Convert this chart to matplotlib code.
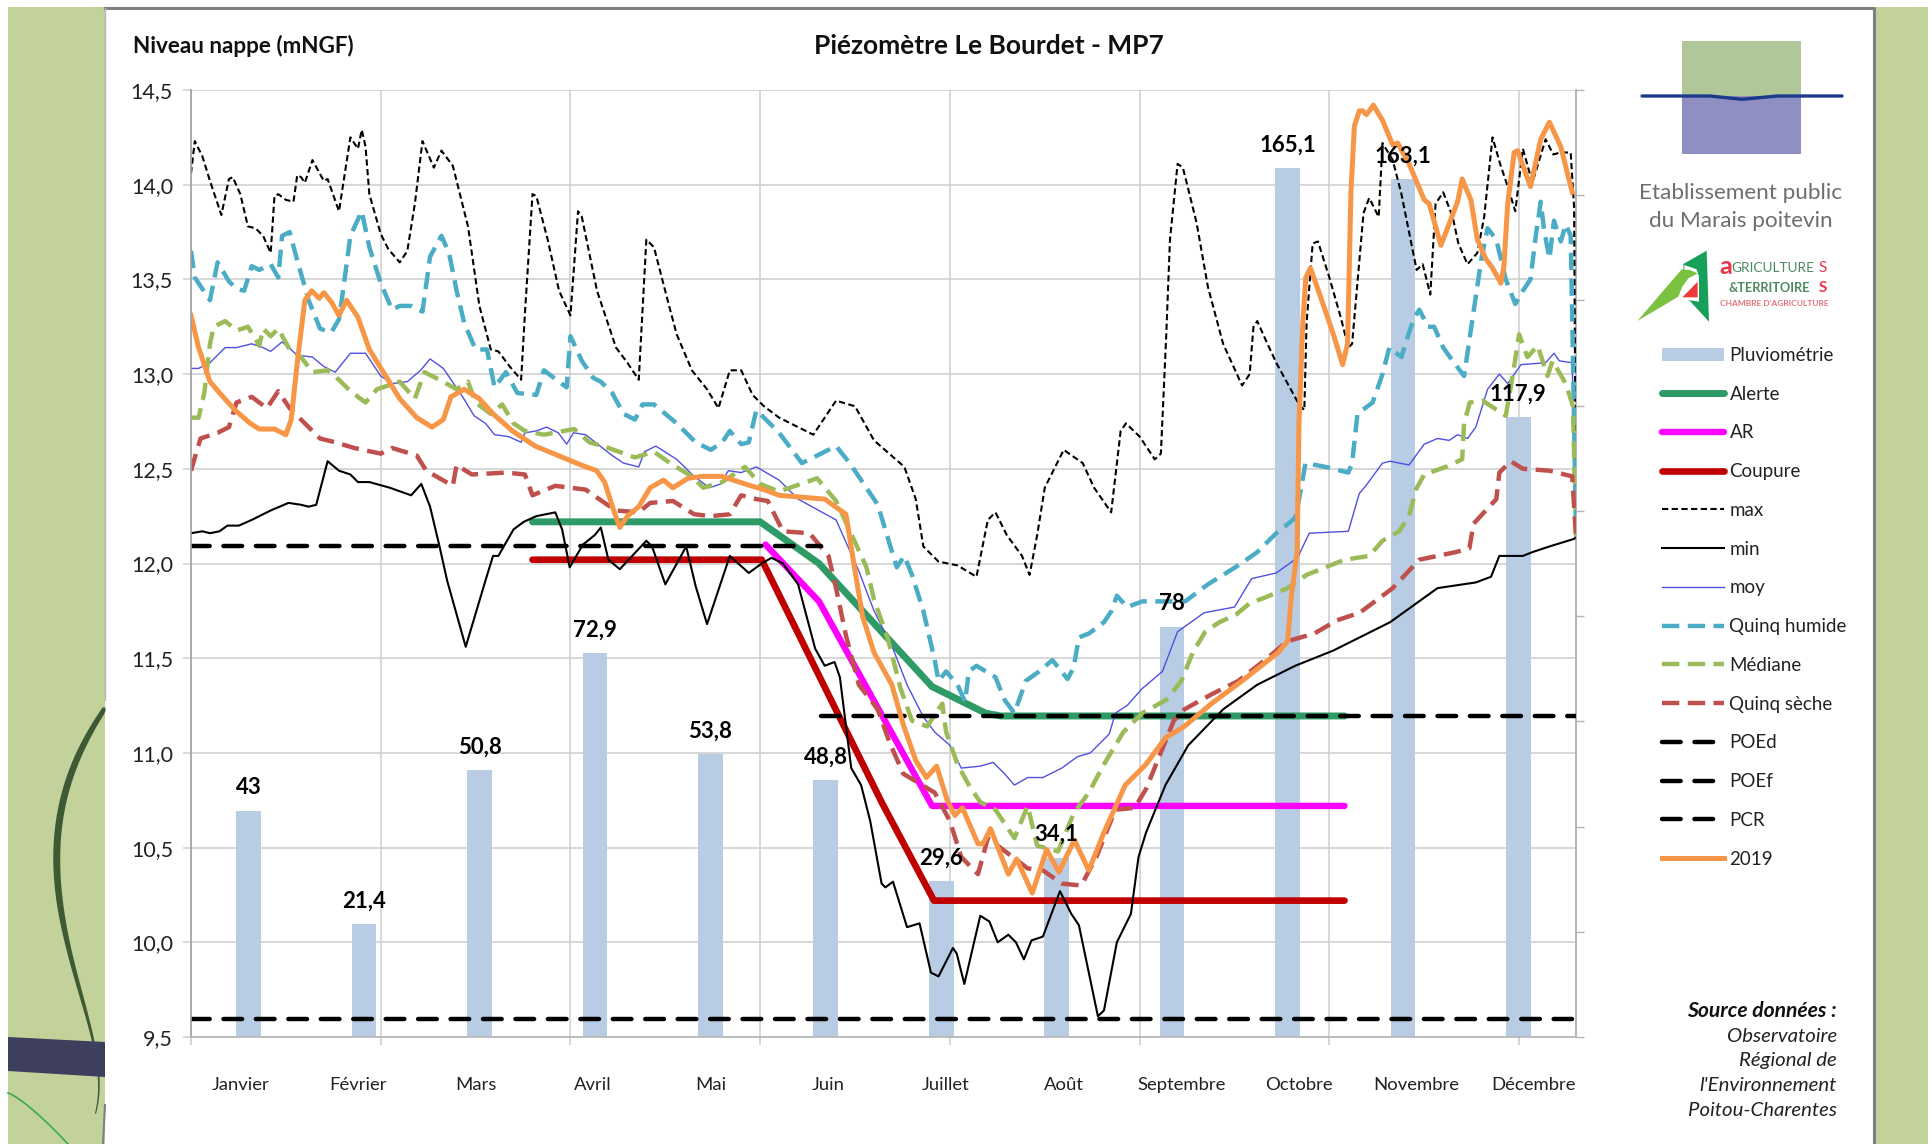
import numpy as np
import matplotlib
matplotlib.use('Agg')
import matplotlib.pyplot as plt
from matplotlib.patches import Patch, Polygon, Rectangle

plt.rcParams['font.family'] = ['Lato', 'DejaVu Sans']

W, H = 1933, 1144

# Monthly rain
months = ['Janvier', 'Février', 'Mars', 'Avril', 'Mai', 'Juin', 'Juillet', 'Août',
          'Septembre', 'Octobre', 'Novembre', 'Décembre']
rain = [43, 21.4, 50.8, 72.9, 53.8, 48.8, 29.6, 34.1, 78, 165.1, 163.1, 117.9]
rain_labels = ['43', '21,4', '50,8', '72,9', '53,8', '48,8', '29,6', '34,1', '78', '165,1', '163,1', '117,9']

y_ticks = [9.5, 10, 10.5, 11, 11.5, 12, 12.5, 13, 13.5, 14, 14.5]
y_labels = ['9,5', '10,0', '10,5', '11,0', '11,5', '12,0', '12,5', '13,0', '13,5', '14,0', '14,5']

# Thresholds (day of year, level)
alerte_d = [90, 150, 165.5, 195.3, 209.4, 213.4, 304]
alerte_v = [12.22, 12.22, 12.0, 11.35, 11.21, 11.195, 11.195]
ar_d = [151.4, 165.5, 195.3, 304]
ar_v = [12.10, 11.80, 10.72, 10.72]
coupure_d = [90, 150.4, 182, 195.8, 304]
coupure_v = [12.02, 12.02, 10.74, 10.22, 10.22]
poed_d = [0, 166]
poed_v = [12.095, 12.095]
poef_d = [166, 365]
poef_v = [11.195, 11.195]
pcr_d = [0, 364]
pcr_v = [9.595, 9.595]

# Yearly statistics
max_d = [0, 1, 3, 5, 8, 10, 11, 13, 15, 17, 19, 21, 22, 23, 25, 27, 28, 29, 30, 32, 35, 36, 39, 42, 44, 45, 46, 47,
         50, 52, 55, 57, 59, 61, 64, 66, 69, 73, 76, 79, 81, 84, 87, 88, 90, 91, 94, 97, 100, 102, 103, 107, 112,
         115, 118, 120, 122, 126, 128, 132, 136, 139, 142, 145, 148, 151, 155, 164, 170, 175, 180, 188, 191, 193,
         197, 202, 207, 210, 212, 215, 219, 221, 223, 225, 230, 235, 238, 242.5, 245, 246.4, 250, 254, 255.6, 257,
         258, 260, 261.4, 265, 268, 272, 277, 279, 280, 281, 283, 286, 292, 293.4, 294, 295.6, 297, 300, 303, 305,
         306, 309, 310.5, 313, 314, 316.7, 319, 323, 324.6, 326.6, 328, 330, 332.5, 334, 336.4, 339, 340.8, 343,
         345, 347, 349, 351, 353.5, 357, 359, 361, 363.6, 364.5, 365]
max_v = [14.06, 14.23, 14.15, 14.02, 13.84, 14.03, 14.04, 13.95, 13.78, 13.77, 13.73, 13.64, 13.94, 13.95, 13.92,
         13.91, 14.05, 14.04, 14.01, 14.13, 14.02, 14.03, 13.86, 14.25, 14.19, 14.29, 14.20, 13.95, 13.74, 13.66,
         13.59, 13.65, 13.90, 14.23, 14.09, 14.18, 14.10, 13.78, 13.36, 13.13, 13.12, 13.04, 12.97, 13.32, 13.95,
         13.94, 13.71, 13.44, 13.31, 13.86, 13.83, 13.44, 13.14, 13.06, 12.97, 13.71, 13.67, 13.36, 13.21, 13.02,
         12.92, 12.82, 13.02, 13.02, 12.89, 12.83, 12.77, 12.68, 12.86, 12.83, 12.65, 12.51, 12.34, 12.09, 12.01,
         11.99, 11.93, 12.23, 12.27, 12.15, 12.04, 11.94, 12.15, 12.40, 12.60, 12.53, 12.40, 12.27, 12.70, 12.74,
         12.67, 12.55, 12.58, 13.20, 13.71, 14.11, 14.09, 13.80, 13.46, 13.16, 12.94, 13.0, 13.25, 13.28, 13.19,
         13.06, 12.84, 12.81, 13.27, 13.69, 13.70, 13.51, 13.30, 13.14, 13.16, 13.85, 13.93, 13.83, 14.22, 14.13,
         13.95, 13.55, 13.58, 13.42, 13.90, 13.96, 13.83, 13.69, 13.58, 13.64, 13.83, 14.25, 14.11, 13.99, 13.86,
         14.19, 14.01, 14.24, 14.16, 14.17, 14.17, 13.88, 12.14]

min_d = [0, 3, 5, 7.5, 9.6, 12.6, 16, 21, 25.7, 29, 31, 33, 36, 39, 42, 44, 47, 52.4, 58, 60.7, 63, 65.5, 67.5, 72.4,
         77.6, 79.6, 81, 85, 87.7, 91, 96, 97.8, 99.8, 103.3, 106.4, 108, 110, 113, 120, 121.5, 125, 130.5, 133, 136,
         142, 147, 150.4, 153, 156, 160, 164.5, 167, 169.6, 171, 174, 176.6, 179, 182, 183, 185, 188.7, 192, 195, 197,
         200.8, 201.8, 203.8, 208, 210.4, 212.6, 215.4, 217.4, 219.5, 221.5, 224.5, 229, 232, 234, 239, 240.6, 244,
         247.7, 249.7, 251.7, 256.8, 262.8, 272, 281, 291, 301, 308, 316, 328.5, 338.6, 342.6, 344.8, 351, 353.5, 358,
         364.5, 365]
min_v = [12.16, 12.17, 12.16, 12.17, 12.20, 12.20, 12.23, 12.28, 12.32, 12.31, 12.30, 12.31, 12.54, 12.49, 12.47,
         12.43, 12.43, 12.40, 12.36, 12.42, 12.30, 12.09, 11.91, 11.56, 11.91, 12.04, 12.04, 12.18, 12.22, 12.25,
         12.27, 12.18, 11.98, 12.10, 12.15, 12.19, 12.02, 11.97, 12.12, 12.09, 11.89, 12.09, 11.88, 11.68, 12.04,
         11.95, 12.0, 12.03, 12.0, 11.89, 11.55, 11.46, 11.48, 11.40, 10.92, 10.83, 10.64, 10.31, 10.29, 10.32,
         10.08, 10.10, 9.84, 9.82, 9.97, 9.94, 9.78, 10.14, 10.11, 10.0, 10.04, 10.0, 9.91, 10.01, 10.03, 10.27,
         10.15, 10.09, 9.61, 9.64, 10.0, 10.15, 10.45, 10.58, 10.83, 11.04, 11.23, 11.36, 11.46, 11.54, 11.61, 11.69,
         11.87, 11.90, 11.93, 12.04, 12.04, 12.06, 12.09, 12.13, 12.14]

moy_d = [0, 2, 5, 9, 12, 16, 19, 21, 24, 28, 32, 35, 38, 42, 46, 50, 53, 57, 60.5, 63, 66.5, 71.6, 74.6, 77.6, 80,
         83.7, 87, 88, 91, 93.7, 96.8, 99, 100.8, 104, 111, 114, 118, 119.5, 122.5, 128, 132.6, 136.6, 139.6, 141.6,
         145, 149, 155, 160, 170, 176, 180, 185, 188.7, 193, 196, 200, 203, 208, 211.4, 214.4, 217, 220.5, 224.5,
         229.5, 233.6, 237, 242, 243.6, 246.7, 250.7, 256, 260, 267, 275, 279.5, 286, 291.6, 294.7, 305, 307.9,
         309.6, 314, 316, 321, 325, 328.5, 331.6, 333.8, 336.4, 338.6, 341.7, 344.8, 347, 350.5, 357, 359.2, 360.6,
         364, 365]
moy_v = [13.03, 13.03, 13.06, 13.14, 13.14, 13.16, 13.14, 13.12, 13.17, 13.10, 13.09, 13.04, 13.01, 13.11, 13.11,
         12.99, 12.95, 12.96, 13.02, 13.08, 13.03, 12.88, 12.78, 12.74, 12.68, 12.67, 12.64, 12.69, 12.70, 12.72,
         12.69, 12.63, 12.69, 12.68, 12.57, 12.53, 12.51, 12.59, 12.62, 12.55, 12.46, 12.40, 12.42, 12.49, 12.48,
         12.51, 12.44, 12.34, 12.23, 11.96, 11.75, 11.55, 11.36, 11.19, 11.11, 11.04, 10.92, 10.93, 10.95, 10.89,
         10.83, 10.87, 10.87, 10.92, 10.98, 11.0, 11.10, 11.21, 11.25, 11.34, 11.43, 11.64, 11.74, 11.77, 11.92,
         11.95, 12.03, 12.16, 12.17, 12.37, 12.41, 12.53, 12.54, 12.52, 12.63, 12.66, 12.65, 12.68, 12.66, 12.72,
         12.92, 13.0, 12.95, 13.05, 13.06, 13.11, 13.07, 13.06, 12.14]

humide_d = [0, 1, 3, 5, 7, 10, 12, 14, 16, 18, 21, 23, 24, 26, 28, 31, 34, 37, 39, 40, 42, 45, 47, 50, 53, 55, 58, 61,
            63, 66, 68, 70, 72, 75, 78, 80, 83, 86, 91, 93, 95, 99, 100, 103, 106, 108, 111, 114, 117, 119, 122, 128,
            133, 137, 140, 142, 145, 147, 149, 151, 155, 161, 170, 173.6, 181, 184, 186, 188, 190, 193, 196, 197, 199,
            202, 204, 205, 207, 212, 214.4, 217, 220, 223.5, 227, 231, 232.6, 234, 236.6, 240.6, 242.6, 244, 246.7,
            250.7, 256.8, 262, 268, 276, 281, 286, 291, 292.5, 293.7, 299, 305, 306, 307.4, 311.4, 314, 315.8, 319,
            321, 322.4, 323.7, 326, 327.6, 330, 332.5, 335.5, 337.7, 340, 341.7, 344, 346.5, 349, 351, 353, 354.4,
            355.7, 356.6, 358, 359.2, 361, 362.3, 363.6, 364.2, 365]
humide_v = [13.65, 13.51, 13.45, 13.39, 13.59, 13.49, 13.45, 13.44, 13.57, 13.55, 13.58, 13.51, 13.73, 13.75, 13.60,
            13.39, 13.24, 13.22, 13.29, 13.43, 13.73, 13.86, 13.67, 13.48, 13.34, 13.36, 13.36, 13.33, 13.62, 13.73,
            13.64, 13.44, 13.27, 13.13, 13.13, 12.93, 13.01, 12.90, 12.89, 13.02, 12.99, 12.93, 13.20, 13.07, 12.98,
            12.96, 12.90, 12.79, 12.76, 12.84, 12.84, 12.74, 12.64, 12.60, 12.64, 12.70, 12.63, 12.64, 12.81, 12.77,
            12.69, 12.53, 12.62, 12.53, 12.31, 12.11, 11.98, 12.04, 11.94, 11.75, 11.49, 11.38, 11.43, 11.36, 11.27,
            11.43, 11.46, 11.40, 11.28, 11.21, 11.38, 11.43, 11.49, 11.39, 11.45, 11.61, 11.63, 11.69, 11.75, 11.83,
            11.77, 11.80, 11.80, 11.80, 11.89, 11.99, 12.06, 12.16, 12.24, 12.39, 12.53, 12.51, 12.48, 12.53, 12.79,
            12.85, 13.0, 13.14, 13.09, 13.22, 13.30, 13.34, 13.25, 13.25, 13.14, 13.07, 12.99, 13.29, 13.60, 13.77,
            13.71, 13.50, 13.37, 13.44, 13.50, 13.73, 13.91, 13.76, 13.61, 13.81, 13.70, 13.79, 13.73, 13.09, 12.14]

mediane_d = [0, 2, 3.5, 5, 6, 9, 12, 15, 18, 19, 21, 23, 26, 29, 32, 36, 39, 42, 46, 49, 55, 59, 61.5, 65.5, 70, 73,
             75, 79, 82, 85, 88, 93, 101, 105, 110, 117, 122, 127, 132, 135, 140, 146, 150, 155, 165, 170, 174.6, 178,
             180, 183.7, 187, 190, 194, 198, 199, 202, 205, 208, 212, 217, 220.5, 223, 228.5, 232.6, 236.6, 240.6,
             245.7, 250.7, 257, 261, 264, 267.3, 271, 275.4, 279, 283, 289, 294, 304, 310.5, 314, 318.4, 321, 322.8,
             325, 330.7, 335, 335.5, 337, 340.4, 346.5, 348.3, 350, 352.2, 354.9, 357.5, 358.8, 362.3, 364.2, 365]
mediane_v = [12.77, 12.77, 12.90, 13.16, 13.25, 13.28, 13.23, 13.25, 13.15, 13.24, 13.20, 13.24, 13.13, 13.09, 13.01,
             13.02, 12.97, 12.91, 12.85, 12.92, 12.96, 12.87, 13.01, 12.97, 12.92, 12.96, 12.85, 12.79, 12.84, 12.74,
             12.70, 12.68, 12.71, 12.64, 12.61, 12.56, 12.59, 12.52, 12.46, 12.40, 12.43, 12.51, 12.42, 12.38, 12.45,
             12.33, 12.13, 11.98, 11.81, 11.60, 11.34, 11.17, 11.14, 11.26, 11.11, 10.94, 10.83, 10.74, 10.70, 10.55,
             10.72, 10.51, 10.48, 10.68, 10.79, 10.94, 11.11, 11.21, 11.28, 11.38, 11.53, 11.64, 11.69, 11.73, 11.79,
             11.82, 11.87, 11.94, 12.02, 12.04, 12.12, 12.17, 12.25, 12.39, 12.47, 12.51, 12.55, 12.74, 12.85, 12.86,
             12.78, 12.99, 13.21, 13.09, 13.15, 12.99, 13.07, 12.95, 12.83, 12.14]

seche_d = [0, 2.5, 7, 10, 12, 16, 20, 23, 26, 29, 34, 38, 43, 50, 53, 59.5, 62, 69, 70, 74, 83, 88, 90, 96, 104, 109,
           112, 118, 121, 127, 132.6, 137, 142, 145, 149, 152, 156, 163, 168, 170, 172.6, 176, 181, 184, 187.7, 196,
           200, 203, 207.4, 210, 220.5, 224.5, 229.5, 234.6, 238.6, 243.6, 248.7, 251.7, 259, 261.8, 269, 276, 283,
           289, 296, 302, 308, 316.7, 323.7, 333.3, 336.9, 338, 344, 344.8, 347.8, 351, 358, 364, 365]
seche_v = [12.49, 12.66, 12.69, 12.72, 12.85, 12.88, 12.82, 12.91, 12.82, 12.76, 12.66, 12.64, 12.61, 12.58, 12.61,
           12.57, 12.49, 12.41, 12.52, 12.47, 12.48, 12.47, 12.36, 12.41, 12.39, 12.32, 12.28, 12.27, 12.32, 12.33,
           12.26, 12.25, 12.26, 12.36, 12.34, 12.33, 12.17, 12.16, 12.04, 11.87, 11.62, 11.36, 11.23, 11.06, 10.89,
           10.79, 10.64, 10.45, 10.36, 10.55, 10.39, 10.38, 10.31, 10.30, 10.45, 10.70, 10.71, 10.81, 11.17, 11.23,
           11.31, 11.38, 11.49, 11.59, 11.63, 11.70, 11.74, 11.87, 12.02, 12.06, 12.08, 12.21, 12.34, 12.48, 12.54,
           12.50, 12.49, 12.46, 12.14]

y2019_d = [0, 2, 5, 8, 11.6, 15.6, 18, 22, 25, 26.4, 28, 30, 31.8, 33.8, 35, 37, 39, 41, 44, 47, 51, 55, 59.5, 63.5,
           66.5, 68.5, 72, 76, 79.6, 84.7, 90.7, 96.8, 102.8, 106.9, 109, 111.4, 113, 115, 118, 121, 124.5, 127, 131,
           134.6, 140, 146, 151, 155, 167, 172.6, 175, 177, 180, 184.7, 187.7, 191, 193.8, 196.5, 199.3, 201.3, 203.3,
           207.4, 208.7, 210.7, 215.4, 217.6, 221.7, 225.5, 228.7, 232.8, 236.6, 240.6, 246.2, 251.7, 256.8, 261.8,
           268.9, 277, 286.5, 289, 290, 291.5, 292, 293, 293.8, 295, 297.3, 300.9, 303.5, 304.8, 305.7, 306.6, 307.9,
           308.8, 309.8, 311.6, 314, 316.7, 318, 321, 325, 326.3, 329.4, 333.8, 335, 337.3, 339, 341.2, 343, 345.2,
           346, 347, 348.7, 349.6, 353, 355.7, 358, 361, 364]
y2019_v = [13.31, 13.14, 12.96, 12.89, 12.81, 12.74, 12.71, 12.71, 12.68, 12.76, 13.06, 13.39, 13.44, 13.40, 13.43,
           13.38, 13.31, 13.39, 13.30, 13.13, 13.0, 12.87, 12.77, 12.72, 12.76, 12.88, 12.92, 12.87, 12.79, 12.70,
           12.62, 12.57, 12.52, 12.49, 12.43, 12.28, 12.19, 12.25, 12.30, 12.40, 12.44, 12.40, 12.45, 12.46, 12.46,
           12.42, 12.39, 12.36, 12.34, 12.26, 11.96, 11.72, 11.53, 11.36, 11.15, 10.96, 10.87, 10.93, 10.75, 10.67,
           10.71, 10.52, 10.52, 10.60, 10.36, 10.44, 10.26, 10.49, 10.37, 10.54, 10.38, 10.58, 10.83, 10.94, 11.08,
           11.14, 11.26, 11.38, 11.53, 11.59, 11.83, 12.06, 12.74, 13.27, 13.51, 13.56, 13.43, 13.22, 13.05, 13.16,
           13.97, 14.31, 14.39, 14.39, 14.37, 14.42, 14.34, 14.21, 14.22, 14.11, 13.92, 13.90, 13.68, 13.91, 14.03,
           13.92, 13.71, 13.61, 13.56, 13.48, 13.57, 13.90, 14.17, 14.18, 13.99, 14.24, 14.33, 14.20, 13.96]

fig = plt.figure(figsize=(W / 100, H / 100), dpi=100, facecolor='white')

# Slide background, drawn in image pixels
bg = fig.add_axes([0, 0, 1, 1], zorder=0)
bg.set_xlim(0, W)
bg.set_ylim(H, 0)
bg.axis('off')
GREEN_BAND = '#c3d29b'
bg.add_patch(Rectangle((8, 7), 1920, H - 7, color=GREEN_BAND, lw=0))
bg.add_patch(Rectangle((105, 8), 1769, H, facecolor='white', lw=0))
bg.plot([105, 1874, 1874], [8, 8, H], color='#808080', lw=2.2)
bg.plot([105, 105], [8, 700], color='#b5b5b5', lw=1)
bg.plot([105, 103], [1105, H], color='#808080', lw=1.5)

# Decorative stems on the left band
ys = np.array([707, 750, 783, 823, 857, 900, 950, 993, 1027, 1060, 1113])
xs = np.array([105, 80, 68, 58, 56, 60, 68, 80, 90, 96, 95])
wd = np.array([6, 7, 7, 7, 7, 6.5, 5, 4, 3, 2, 1.2])
yy = np.linspace(707, 1113, 120)
xx = np.polyval(np.polyfit(ys, xs, 6), yy)
ww = np.interp(yy, ys, wd)
bg.fill_betweenx(yy, np.minimum(xx - ww / 2, 105), np.minimum(xx + ww / 2, 105), color='#3d5a35', lw=0)
bg.add_patch(Polygon([(8, 1037), (105, 1042), (105, 1077), (8, 1071)], color='#3d3f5c', lw=0, zorder=3))
tt = np.linspace(0, 1, 30)
bg.plot(8 + 60 * tt, 1093 + 51 * tt ** 1.25, color='#3aab4a', lw=1.2)

# Marais poitevin logo
bg.add_patch(Rectangle((1682, 41), 119, 55, color='#b0c79a', lw=0))
bg.add_patch(Rectangle((1682, 96), 119, 58, color='#8f8fc4', lw=0))
bg.plot([1642, 1710, 1742, 1777, 1842], [96, 96, 99.3, 96, 96], color='#1b3a8c', lw=2.4, solid_capstyle='round')
bg.text(1741, 193, 'Etablissement public', ha='center', va='center', fontsize=16.2, color='#6d6e71')
bg.text(1741, 221, 'du Marais poitevin', ha='center', va='center', fontsize=16.2, color='#6d6e71')

# Chambre d'agriculture logo
logo = lambda pts: [(1625 + a / 3, 240 + b / 3) for a, b in pts]
bg.add_patch(Polygon(logo([(175, 72), (245, 32), (252, 245), (178, 165)]), color='#16a05a', lw=0))
bg.add_patch(Polygon(logo([(178, 75), (215, 88), (222, 110), (222, 185), (178, 178), (160, 160), (178, 110)]),
                     color='white', lw=0))
bg.add_patch(Polygon(logo([(37, 243), (170, 88), (195, 90), (218, 100), (190, 115), (172, 140), (160, 170)]),
                     color='#7cc242', lw=0))
bg.add_patch(Polygon(logo([(172, 172), (218, 125), (218, 172)]), color='#ee3a3a', lw=0))
bg.text(1719, 267, 'a', color='#e8344a', fontsize=18, fontweight='bold', ha='left', va='center')
bg.text(1731, 268, 'GRICULTURE', color='#4d8a62', fontsize=9.8, ha='left', va='center')
bg.text(1827, 268, 'S', color='#e8344a', fontsize=11, ha='right', va='center')
bg.text(1729, 288, '&TERRITOIRE', color='#4d8a62', fontsize=9.2, fontweight='bold', ha='left', va='center')
bg.text(1827, 288, 'S', color='#e8344a', fontsize=11, fontweight='bold', ha='right', va='center')
bg.text(1720, 304, "CHAMBRE D'AGRICULTURE", color='#e8707a', fontsize=6, fontweight='bold', ha='left', va='center')

# Chart axes: rain behind, levels on top
left, right, top, bottom = 191, 1576, 90, 1037
rect = [left / W, 1 - bottom / H, (right - left) / W, (bottom - top) / H]
ax2 = fig.add_axes(rect, zorder=1)
ax = fig.add_axes(rect, zorder=2, sharex=ax2)
ax.patch.set_visible(False)
ax2.patch.set_visible(False)

GRID = '#cfcfcf'
centres = (np.arange(12) + 0.5) * 365 / 12
ax2.bar(centres, rain, width=6.5, color='#b8cce4', lw=0)
ax2.set_ylim(0, 180)
ax2.yaxis.tick_right()
ax2.set_yticks(np.arange(0, 181, 20))
ax2.set_yticklabels([])
ax2.tick_params(axis='y', length=6, width=1, color='#b5b5b5')
ax2.set_xlim(0, 365)
ax2.set_xticks(np.arange(0, 351, 50))
ax2.set_xticklabels([])
ax2.tick_params(axis='x', length=6, width=1.2, color=GRID, labelbottom=False)
for s in ['top', 'left', 'bottom']:
    ax2.spines[s].set_visible(False)
ax2.spines['right'].set_color('#a8a8a8')
ax2.spines['right'].set_linewidth(1.2)

ax.set_ylim(9.5, 14.5)
ax.set_yticks(y_ticks)
ax.set_yticklabels(y_labels, fontsize=15.5, color='#222222')
ax.tick_params(axis='y', length=6, width=1.1, color=GRID, pad=7)
ax.tick_params(axis='x', length=0, labelbottom=False)
for s in ['top', 'right']:
    ax.spines[s].set_visible(False)
ax.spines['left'].set_color('#a0a0a0')
ax.spines['left'].set_linewidth(1.2)
ax.spines['bottom'].set_color('#b5b5b5')
ax.spines['bottom'].set_linewidth(1.2)

# The grid must sit behind the bars, so it lives on the rain axes
ax2.set_axisbelow(True)
ax2.xaxis.grid(True, color=GRID, lw=1.15)
for v in y_ticks:
    ax2.axhline((v - 9.5) * 36, color=GRID, lw=1.15, zorder=0.5)

thick = dict(solid_capstyle='round', solid_joinstyle='round')
l_alerte, = ax.plot(alerte_d, alerte_v, color='#2e9a66', lw=5, **thick)
l_ar, = ax.plot(ar_d, ar_v, color='#ff00ff', lw=4.6, **thick)
l_coupure, = ax.plot(coupure_d, coupure_v, color='#c00000', lw=4.8, **thick)
l_max, = ax.plot(max_d, max_v, color='black', lw=1.5, dashes=(3, 1.65))
l_min, = ax.plot(min_d, min_v, color='black', lw=1.5)
l_moy, = ax.plot(moy_d, moy_v, color='#5050e0', lw=1.0)
l_humide, = ax.plot(humide_d, humide_v, color='#4bacc6', lw=3.2, dashes=(3.9, 1.9))
l_mediane, = ax.plot(mediane_d, mediane_v, color='#9bbb59', lw=3.2, dashes=(3.9, 1.9))
l_seche, = ax.plot(seche_d, seche_v, color='#c0504d', lw=3.2, dashes=(3.9, 1.9))
poe = dict(color='black', lw=3.2, dashes=(4.2, 3.1), dash_capstyle='round')
l_poed, = ax.plot(poed_d, poed_v, **poe)
l_poef, = ax.plot(poef_d, poef_v, **poe)
l_pcr, = ax.plot(pcr_d, pcr_v, **poe)
l_2019, = ax.plot(y2019_d, y2019_v, color='#f79646', lw=3.6, solid_joinstyle='round')

for c, v, txt in zip(centres, rain, rain_labels):
    ax.annotate(txt, xy=(c, v), xycoords=ax2.transData, xytext=(0, 9), textcoords='offset points',
                ha='center', va='bottom', fontsize=16, fontweight='bold', color='black', zorder=10)

# Texts around the chart
bg.text(133, 46, 'Niveau nappe (mNGF)', ha='left', va='center', fontsize=16.2, fontweight='bold', color='#111111')
bg.text(989, 46, 'Piézomètre Le Bourdet - MP7', ha='center', va='center', fontsize=19, fontweight='bold',
        color='#111111')
for i, m in enumerate(months):
    bg.text(240.4 + i * 117.6, 1085, m, ha='center', va='center', fontsize=13.3, color='#222222')

handles = [Patch(color='#b8cce4', lw=0), l_alerte, l_ar, l_coupure, l_max, l_min, l_moy, l_humide, l_mediane, l_seche,
           l_poed, l_poef, l_pcr, l_2019]
labels = ['Pluviométrie', 'Alerte', 'AR', 'Coupure', 'max', 'min', 'moy', 'Quinq humide', 'Médiane', 'Quinq sèche',
          'POEd', 'POEf', 'PCR', '2019']
leg = fig.legend(handles, labels, loc='upper left', bbox_to_anchor=(1662 / W, 1 - 347 / H), frameon=False, fontsize=13.5,
                 handlelength=3.3, handletextpad=0.3, labelspacing=1.16, borderpad=0, borderaxespad=0,
                 labelcolor='#222222')
leg.set_zorder(5)

source = ['Observatoire', 'Régional de', "l'Environnement", 'Poitou-Charentes']
bg.text(1837, 1011, 'Source données :', ha='right', va='center', fontsize=15.2, fontstyle='italic', fontweight='bold',
        color='#111111')
for i, s in enumerate(source):
    bg.text(1837, 1036 + i * 24.7, s, ha='right', va='center', fontsize=14.7, fontstyle='italic', color='#222222')

fig.savefig('out.png', dpi=100)
